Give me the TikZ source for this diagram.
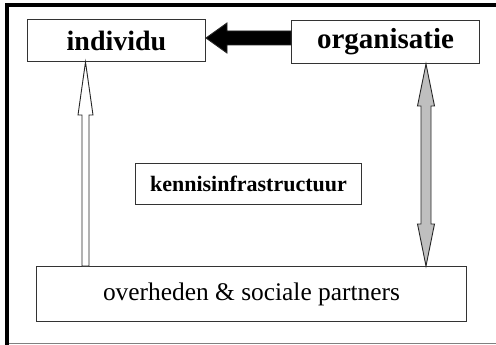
\documentclass[tikz,border=0pt]{standalone}
\usepackage{fontspec}
\setmainfont{Liberation Serif}
\usetikzlibrary{calc,positioning}

% block arrow: style, from, to, shaft half width, head half width, head length
\newcommand{\blockarrow}[6]{%
  \coordinate (hb) at ($(#3)!#6!(#2)$);
  \draw[#1] ($(#2)!#4!90:(#3)$) -- ($(hb)!#4!90:(#3)$) -- ($(hb)!#5!90:(#3)$) -- (#3)
    -- ($(hb)!#5!-90:(#3)$) -- ($(hb)!#4!-90:(#3)$) -- ($(#2)!#4!-90:(#3)$) -- cycle;
}
% same with a head at both ends
\newcommand{\dblblockarrow}[6]{%
  \coordinate (ha) at ($(#2)!#6!(#3)$);
  \coordinate (hb) at ($(#3)!#6!(#2)$);
  \draw[#1] (#2) -- ($(ha)!#5!90:(#3)$) -- ($(ha)!#4!90:(#3)$) -- ($(hb)!#4!90:(#3)$)
    -- ($(hb)!#5!90:(#3)$) -- (#3) -- ($(hb)!#5!-90:(#3)$) -- ($(hb)!#4!-90:(#3)$)
    -- ($(ha)!#4!-90:(#3)$) -- ($(ha)!#5!-90:(#3)$) -- cycle;
}

\begin{document}
\begin{tikzpicture}[
    x=1pt, y=-1pt,
    box/.style={rectangle, draw=black!80, line width=1pt, inner sep=0pt, fill=white},
    bigbold/.style={font=\bfseries\fontsize{28}{30}\selectfont},
    edgeline/.style={line width=3.6pt, black},
    arrowline/.style={draw=black!85, line width=0.9pt, line join=miter}
]
    \useasboundingbox (0,0) rectangle (496,345);

    % Frame
    \draw[edgeline] (7,3.2) -- (7,345);
    \draw[edgeline] (5.2,5) -- (496,5);
    \draw[black!50, line width=1pt] (9,343.8) -- (496,343.8);

    % Boxes
    \node[box, bigbold, minimum width=178pt, minimum height=42pt] (individu) at (116.5,40.5) {individu};
    \node[box, bigbold, font=\bfseries\fontsize{29}{31}\selectfont, minimum width=188pt, minimum height=43pt] (organisatie) at (385.5,42) {organisatie};
    \node[box, font=\bfseries\fontsize{22}{24}\selectfont, minimum width=226pt, minimum height=41pt] (kennis) at (248.5,184) {kennisinfrastructuur};
    \node[box, font=\fontsize{25.4}{28}\selectfont, minimum width=430pt, minimum height=55pt] (overheden) at (251.5,294) {overheden \& sociale partners};

    % Arrows
    \coordinate (blk) at ($(organisatie.west)+(0,-4)$);
    \coordinate (wcol) at (85.5,0);
    \coordinate (gcol) at (426,0);
    \blockarrow{arrowline, fill=black}{blk}{individu.east |- blk}{7pt}{15pt}{21pt}
    \blockarrow{arrowline, fill=white}{overheden.north -| wcol}{individu.south -| wcol}{3.5pt}{7.5pt}{53pt}
    \dblblockarrow{arrowline, fill=black!25}{organisatie.south -| gcol}{overheden.north -| gcol}{5pt}{8.5pt}{42pt}
\end{tikzpicture}
\end{document}
